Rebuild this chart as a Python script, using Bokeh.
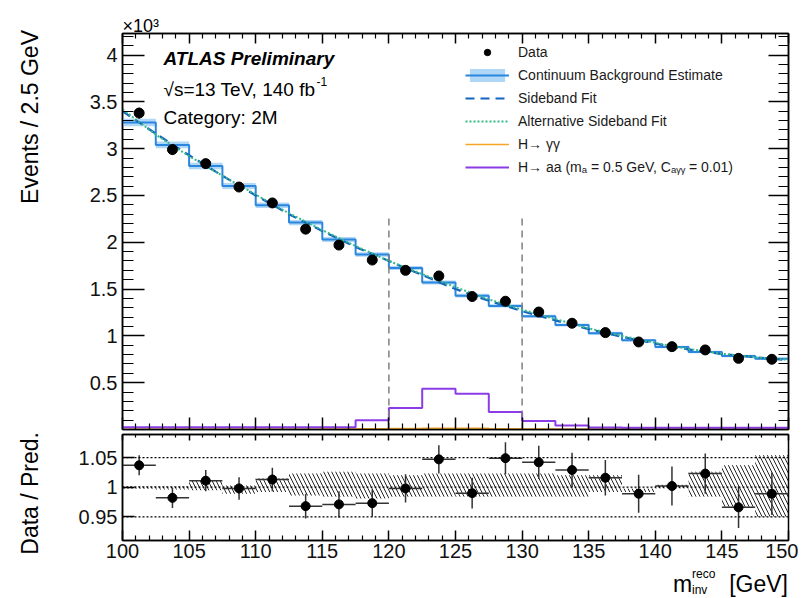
from bokeh.plotting import figure
from bokeh.models import (ColumnDataSource, FixedTicker, LinearAxis, Range1d, Label,
                          Legend, LegendItem, Span, Title, Div)
from bokeh.layouts import column, row
from bokeh.embed import file_html
from bokeh.resources import INLINE

FONT = "Liberation Sans"
CSS_FONT = "'Liberation Sans',Arial,sans-serif"

# ---------------- data ----------------
bin_edges = [100.0, 102.5, 105.0, 107.5, 110.0, 112.5, 115.0, 117.5, 120.0, 122.5, 125.0,
             127.5, 130.0, 132.5, 135.0, 137.5, 140.0, 142.5, 145.0, 147.5, 150.0]

data_counts = [3380, 2990, 2840, 2590, 2420, 2140, 1970, 1810, 1700, 1640,
               1420, 1370, 1255, 1135, 1035, 935, 885, 850, 760, 750]
data_err = [58, 55, 53, 51, 49, 46, 44, 43, 41, 40, 38, 37, 35, 34, 32, 31, 30, 29, 28, 27]

bkg_counts = [3280, 3040, 2815, 2600, 2395, 2210, 2030, 1870, 1725, 1570,
              1430, 1320, 1210, 1116, 1028, 953, 881, 828, 785, 757]
bkg_unc = [40, 37, 35, 32, 30, 28, 26, 24, 22, 21, 19, 18, 17, 16, 15, 14, 14, 13, 13, 13]

sideband_fit = [3400, 3160, 2930, 2710, 2500, 2300, 2120, 1950, 1800, 1650, 1500,
                1375, 1265, 1165, 1072, 990, 917, 855, 806, 771, 740]
alt_sideband_fit = [3420, 3150, 2920, 2710, 2510, 2310, 2130, 1960, 1800, 1660, 1520,
                    1390, 1280, 1180, 1080, 1000, 925, 860, 810, 770, 745]

h_gg = [2, 2, 2, 3, 3, 4, 5, 7, 10, 14, 13, 9, 6, 4, 3, 2, 2, 2, 2, 2]
h_aa = [25, 25, 25, 25, 25, 25, 25, 100, 230, 436, 383, 187, 90, 44, 22, 20, 20, 20, 20, 20]

signal_window = [120.0, 130.0]
window_line_top = 2280

ratio = [1.037, 0.982, 1.011, 0.998, 1.013, 0.968, 0.971, 0.973, 0.998, 1.047,
         0.990, 1.049, 1.042, 1.029, 1.016, 0.989, 1.002, 1.023, 0.966, 0.989]
ratio_err = [0.017, 0.017, 0.018, 0.019, 0.020, 0.021, 0.022, 0.023, 0.024, 0.024,
             0.026, 0.027, 0.028, 0.029, 0.030, 0.032, 0.033, 0.034, 0.035, 0.036]
ratio_band_lo = [0.997, 0.996, 0.995, 0.989, 0.992, 0.986, 0.984, 0.981, 0.984, 0.984,
                 0.984, 0.984, 0.984, 0.984, 0.992, 0.992, 0.998, 0.984, 0.967, 0.950]
ratio_band_hi = [1.002, 1.002, 1.012, 1.003, 1.015, 1.023, 1.026, 1.023, 1.020, 1.023,
                 1.023, 1.023, 1.023, 1.020, 1.020, 0.998, 1.004, 1.026, 1.037, 1.054]
ratio_ref_lines = [0.95, 1.0, 1.05]

x_major_ticks = [100, 105, 110, 115, 120, 125, 130, 135, 140, 145, 150]
y_major_ticks = [500, 1000, 1500, 2000, 2500, 3000, 3500, 4000]
y_tick_labels = ["0.5", "1", "1.5", "2", "2.5", "3", "3.5", "4"]
r_major_ticks = [0.95, 1.0, 1.05]
r_tick_labels = ["0.95", "1", "1.05"]

legend_labels = ["Data", "Continuum Background Estimate", "Sideband Fit",
                 "Alternative Sideband Fit", "H\u2192 \u03b3\u03b3",
                 "H\u2192 aa (m\u2090 = 0.5 GeV, C\u2090\u1d67\u1d67 = 0.01)"]

# ---------------- derived ----------------
lo_edges = bin_edges[:-1]
hi_edges = bin_edges[1:]
centers = [(a + b) / 2 for a, b in zip(lo_edges, hi_edges)]


def step_xy(vals):
    xs, ys = [], []
    for i, v in enumerate(vals):
        xs += [bin_edges[i], bin_edges[i + 1]]
        ys += [v, v]
    return xs, ys


x_minor = [v for v in range(100, 151) if v % 5 != 0]
y_minor = [v for v in range(100, 4300, 100) if v % 500 != 0]


def style_axis(ax, major_in, minor_in, labels=False, size="20px"):
    ax.axis_line_color = "black"
    ax.axis_line_width = 1.5
    ax.major_tick_in = major_in
    ax.major_tick_out = 0
    ax.minor_tick_in = minor_in
    ax.minor_tick_out = 0
    ax.major_tick_line_color = "black"
    ax.major_tick_line_width = 1.5
    if minor_in > 0:
        ax.minor_tick_line_color = "black"
        ax.minor_tick_line_width = 1.2
    else:
        ax.minor_tick_line_color = None
    if labels:
        ax.major_label_text_font = FONT
        ax.major_label_text_font_size = size
        ax.major_label_text_color = "#111111"
    else:
        ax.major_label_text_color = None
        ax.major_label_text_font_size = "1px"
        ax.major_label_standoff = 0


def add_label(fig, x, y, text, size, style="normal", align="left",
              baseline="alphabetic", color="black"):
    fig.add_layout(Label(x=x, y=y, x_units="screen", y_units="screen", text=text,
                         text_font=FONT, text_font_size=f"{size}px",
                         text_font_style=style, text_align=align,
                         text_baseline=baseline, text_color=color))


def ytitle_div(text, height, top):
    html = (f'<div style="position:relative;width:45px;height:{height}px;">'
            f'<span style="position:absolute;left:17px;top:{top}px;writing-mode:vertical-rl;'
            f'transform:rotate(180deg);font-family:{CSS_FONT};font-size:23px;'
            f'line-height:26px;white-space:nowrap;color:black;">{text}</span></div>')
    return Div(text=html, width=45, height=height, margin=(0, 0, 0, 0))


FIG_W = 753
BORDER_L = 77

# ---------------- main panel ----------------
p = figure(width=FIG_W, height=432, x_range=Range1d(100, 150), y_range=Range1d(0, 4230),
           output_backend="svg", toolbar_location=None,
           min_border_left=BORDER_L, min_border_right=10, min_border_top=33, min_border_bottom=3)
p.xgrid.visible = False
p.ygrid.visible = False
p.outline_line_color = "black"
p.outline_line_width = 1.5
p.background_fill_color = "white"
p.border_fill_color = "white"

p.xaxis[0].ticker = FixedTicker(ticks=x_major_ticks, minor_ticks=x_minor)
style_axis(p.xaxis[0], 12, 6)
p.yaxis[0].ticker = FixedTicker(ticks=y_major_ticks, minor_ticks=y_minor)
p.yaxis[0].major_label_overrides = {t: l for t, l in zip(y_major_ticks, y_tick_labels)}
style_axis(p.yaxis[0], 22, 11, labels=True)
p.yaxis[0].major_label_standoff = 5

ax_r = LinearAxis(ticker=FixedTicker(ticks=y_major_ticks, minor_ticks=y_minor))
style_axis(ax_r, 20, 10)
p.add_layout(ax_r, "right")
ax_t = LinearAxis(ticker=FixedTicker(ticks=x_major_ticks, minor_ticks=x_minor))
style_axis(ax_t, 10, 5)
p.add_layout(ax_t, "above")

p.add_layout(Title(text="\u00d710\u00b3", align="left", text_font=FONT,
                   text_font_size="18px", text_font_style="normal",
                   text_color="black", standoff=-5), "above")

bkg_src = ColumnDataSource(dict(
    left=lo_edges, right=hi_edges,
    bottom=[c - u for c, u in zip(bkg_counts, bkg_unc)],
    top=[c + u for c, u in zip(bkg_counts, bkg_unc)]))
r_band = p.quad(left="left", right="right", bottom="bottom", top="top", source=bkg_src,
                fill_color="#a9d3f5", fill_alpha=0.9, line_color=None)
bx, by = step_xy(bkg_counts)
r_bkg = p.line(bx, by, line_color="#2b86e0", line_width=2)
r_sb = p.line(bin_edges, sideband_fit, line_color="#1565c0", line_width=2.2, line_dash="9 6")
r_alt = p.line(bin_edges, alt_sideband_fit, line_color="#33bb88", line_width=2, line_dash="2 2")
gx, gy = step_xy(h_gg)
r_hgg = p.line(gx, gy, line_color="#f5a623", line_width=1.5)
ax_, ay_ = step_xy(h_aa)
r_haa = p.line(ax_, ay_, line_color="#8c3ce6", line_width=2)

p.segment(x0=signal_window, y0=[0, 0], x1=signal_window,
          y1=[window_line_top, window_line_top],
          line_color="#808080", line_width=1.5, line_dash="7 5")

p.segment(x0=centers, x1=centers,
          y0=[d - e for d, e in zip(data_counts, data_err)],
          y1=[d + e for d, e in zip(data_counts, data_err)],
          line_color="black", line_width=1.5)
r_data = p.scatter(centers, data_counts, size=10, marker="circle",
                   fill_color="black", line_color="black")

legend = Legend(items=[
    LegendItem(label=legend_labels[0], renderers=[r_data]),
    LegendItem(label=legend_labels[1], renderers=[r_band, r_bkg]),
    LegendItem(label=legend_labels[2], renderers=[r_sb]),
    LegendItem(label=legend_labels[3], renderers=[r_alt]),
    LegendItem(label=legend_labels[4], renderers=[r_hgg]),
    LegendItem(label=legend_labels[5], renderers=[r_haa]),
], location=(343, 254), orientation="vertical", padding=0, margin=0, spacing=7,
    glyph_width=44, glyph_height=16, label_height=16, label_standoff=9,
    label_text_font=FONT, label_text_font_size="14px", label_text_color="#1a1a1a",
    border_line_color=None, background_fill_alpha=0)
p.add_layout(legend)

add_label(p, 41, 371, "ATLAS Preliminary", 19, style="bold italic")
add_label(p, 41, 340, "\u221as=13 TeV, 140 fb", 19)
add_label(p, 194, 348, "-1", 12)
add_label(p, 41, 312, "Category: 2M", 19)

# ---------------- ratio panel ----------------
r = figure(width=FIG_W, height=135, x_range=p.x_range, y_range=Range1d(0.91, 1.089),
           output_backend="svg", toolbar_location=None,
           min_border_left=BORDER_L, min_border_right=10, min_border_top=2, min_border_bottom=27)
r.xgrid.visible = False
r.ygrid.visible = False
r.outline_line_color = "black"
r.outline_line_width = 1.5
r.background_fill_color = "white"
r.border_fill_color = "white"

r.xaxis[0].ticker = FixedTicker(ticks=x_major_ticks, minor_ticks=x_minor)
style_axis(r.xaxis[0], 10, 5, labels=True)
r.xaxis[0].major_label_standoff = 3
r.yaxis[0].ticker = FixedTicker(ticks=r_major_ticks, minor_ticks=[])
r.yaxis[0].major_label_overrides = {t: l for t, l in zip(r_major_ticks, r_tick_labels)}
style_axis(r.yaxis[0], 12, 0, labels=True)
r.yaxis[0].major_label_standoff = 5
rax_t = LinearAxis(ticker=FixedTicker(ticks=x_major_ticks, minor_ticks=x_minor))
style_axis(rax_t, 6, 3)
r.add_layout(rax_t, "above")

r.quad(left=lo_edges, right=hi_edges, bottom=ratio_band_lo, top=ratio_band_hi,
       fill_alpha=0, line_color=None, hatch_pattern="\\", hatch_color="black",
       hatch_scale=8, hatch_weight=1, hatch_alpha=0.85)
for v in ratio_ref_lines:
    r.add_layout(Span(location=v, dimension="width", line_color="black",
                      line_width=1.3, line_dash="2 2"))
r.segment(x0=lo_edges, x1=hi_edges, y0=ratio, y1=ratio, line_color="#333333", line_width=1.5)
r.segment(x0=centers, x1=centers,
          y0=[v - e for v, e in zip(ratio, ratio_err)],
          y1=[v + e for v, e in zip(ratio, ratio_err)],
          line_color="#333333", line_width=1.5)
r.scatter(centers, ratio, size=9, marker="circle", fill_color="black", line_color="black")

# ---------------- titles outside the frames ----------------
main_ytitle = ytitle_div("Events / 2.5 GeV", 432, 30)
ratio_ytitle = ytitle_div("Data / Pred.", 135, 0)

xtitle_html = (
    f'<div style="position:relative;width:798px;height:30px;font-family:{CSS_FONT};color:black;">'
    '<span style="position:absolute;left:673px;top:6px;font-size:23px;line-height:23px;">m</span>'
    '<span style="position:absolute;left:692px;top:1px;font-size:12px;line-height:12px;">reco</span>'
    '<span style="position:absolute;left:692px;top:17px;font-size:12px;line-height:12px;">inv</span>'
    '<span style="position:absolute;right:10px;top:6px;font-size:23px;line-height:23px;">[GeV]</span>'
    '</div>'
)
xdiv = Div(text=xtitle_html, width=798, height=30, margin=(0, 0, 0, 0))

layout = column(row(main_ytitle, p, spacing=0), row(ratio_ytitle, r, spacing=0), xdiv, spacing=0)
open("out.html", "w").write(file_html(layout, INLINE, title="ATLAS 2M"))
